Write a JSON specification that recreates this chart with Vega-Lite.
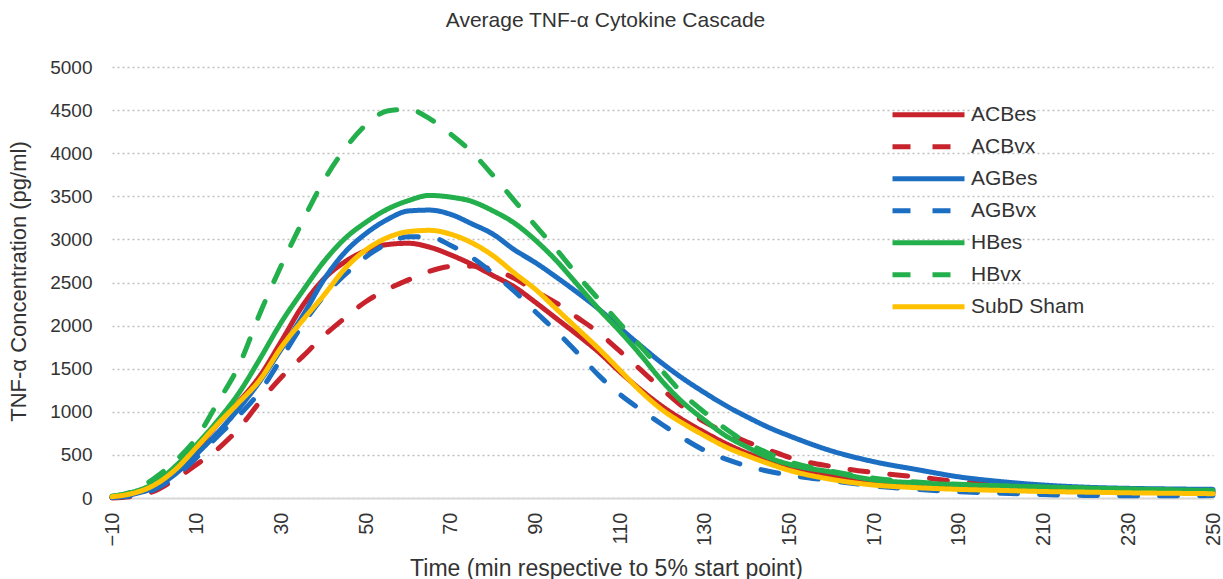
{
 "$schema": "https://vega.github.io/schema/vega-lite/v6.json",
 "width": 1101, "height": 431,
 "autosize": {"type": "none"},
 "padding": {"left": 112, "top": 67, "right": 10, "bottom": 81},
 "background": "white",
 "config": {"view": {"stroke": null}, "font": "Liberation Sans"},
 "title": {"text": "Average TNF-α Cytokine Cascade", "fontSize": 21, "font": "Liberation Sans", "fontWeight": "normal", "color": "#333333", "anchor": "middle", "dx": -57, "offset": 27},
 "datasets": {"d": [
{"series":"ACBes","time":-10,"value":10},{"series":"ACBes","time":-5,"value":50},{"series":"ACBes","time":0,"value":140},{"series":"ACBes","time":5,"value":320},{"series":"ACBes","time":10,"value":570},{"series":"ACBes","time":15,"value":860},{"series":"ACBes","time":20,"value":1120},{"series":"ACBes","time":25,"value":1420},{"series":"ACBes","time":30,"value":1820},{"series":"ACBes","time":35,"value":2230},{"series":"ACBes","time":40,"value":2540},{"series":"ACBes","time":45,"value":2740},{"series":"ACBes","time":50,"value":2870},{"series":"ACBes","time":55,"value":2940},{"series":"ACBes","time":60,"value":2955},{"series":"ACBes","time":65,"value":2910},{"series":"ACBes","time":70,"value":2820},{"series":"ACBes","time":75,"value":2710},{"series":"ACBes","time":80,"value":2580},{"series":"ACBes","time":85,"value":2450},{"series":"ACBes","time":90,"value":2270},{"series":"ACBes","time":95,"value":2080},{"series":"ACBes","time":100,"value":1890},{"series":"ACBes","time":105,"value":1690},{"series":"ACBes","time":110,"value":1460},{"series":"ACBes","time":115,"value":1250},{"series":"ACBes","time":120,"value":1060},{"series":"ACBes","time":125,"value":900},{"series":"ACBes","time":130,"value":760},{"series":"ACBes","time":135,"value":630},{"series":"ACBes","time":140,"value":520},{"series":"ACBes","time":145,"value":430},{"series":"ACBes","time":150,"value":355},{"series":"ACBes","time":160,"value":250},{"series":"ACBes","time":170,"value":185},{"series":"ACBes","time":180,"value":150},{"series":"ACBes","time":190,"value":125},{"series":"ACBes","time":200,"value":110},{"series":"ACBes","time":210,"value":95},{"series":"ACBes","time":220,"value":85},{"series":"ACBes","time":230,"value":75},{"series":"ACBes","time":240,"value":68},{"series":"ACBes","time":250,"value":62},
{"series":"ACBvx","time":-10,"value":0},{"series":"ACBvx","time":-5,"value":20},{"series":"ACBvx","time":0,"value":80},{"series":"ACBvx","time":5,"value":220},{"series":"ACBvx","time":10,"value":390},{"series":"ACBvx","time":15,"value":570},{"series":"ACBvx","time":20,"value":810},{"series":"ACBvx","time":25,"value":1120},{"series":"ACBvx","time":30,"value":1400},{"series":"ACBvx","time":35,"value":1640},{"series":"ACBvx","time":40,"value":1880},{"series":"ACBvx","time":45,"value":2090},{"series":"ACBvx","time":50,"value":2280},{"series":"ACBvx","time":55,"value":2420},{"series":"ACBvx","time":60,"value":2530},{"series":"ACBvx","time":65,"value":2630},{"series":"ACBvx","time":70,"value":2685},{"series":"ACBvx","time":75,"value":2690},{"series":"ACBvx","time":80,"value":2650},{"series":"ACBvx","time":85,"value":2550},{"series":"ACBvx","time":90,"value":2400},{"series":"ACBvx","time":95,"value":2260},{"series":"ACBvx","time":100,"value":2090},{"series":"ACBvx","time":105,"value":1915},{"series":"ACBvx","time":110,"value":1700},{"series":"ACBvx","time":115,"value":1480},{"series":"ACBvx","time":120,"value":1260},{"series":"ACBvx","time":125,"value":1050},{"series":"ACBvx","time":130,"value":880},{"series":"ACBvx","time":135,"value":760},{"series":"ACBvx","time":140,"value":650},{"series":"ACBvx","time":145,"value":560},{"series":"ACBvx","time":150,"value":470},{"series":"ACBvx","time":160,"value":365},{"series":"ACBvx","time":170,"value":295},{"series":"ACBvx","time":180,"value":245},{"series":"ACBvx","time":190,"value":190},{"series":"ACBvx","time":200,"value":150},{"series":"ACBvx","time":210,"value":125},{"series":"ACBvx","time":220,"value":105},{"series":"ACBvx","time":230,"value":90},{"series":"ACBvx","time":240,"value":80},{"series":"ACBvx","time":250,"value":72},
{"series":"AGBes","time":-10,"value":10},{"series":"AGBes","time":-5,"value":45},{"series":"AGBes","time":0,"value":120},{"series":"AGBes","time":5,"value":280},{"series":"AGBes","time":10,"value":510},{"series":"AGBes","time":15,"value":760},{"series":"AGBes","time":20,"value":1040},{"series":"AGBes","time":25,"value":1360},{"series":"AGBes","time":30,"value":1730},{"series":"AGBes","time":35,"value":2110},{"series":"AGBes","time":40,"value":2530},{"series":"AGBes","time":45,"value":2850},{"series":"AGBes","time":50,"value":3070},{"series":"AGBes","time":55,"value":3230},{"series":"AGBes","time":60,"value":3330},{"series":"AGBes","time":65,"value":3340},{"series":"AGBes","time":70,"value":3290},{"series":"AGBes","time":75,"value":3180},{"series":"AGBes","time":80,"value":3060},{"series":"AGBes","time":85,"value":2880},{"series":"AGBes","time":90,"value":2730},{"series":"AGBes","time":95,"value":2560},{"series":"AGBes","time":100,"value":2380},{"series":"AGBes","time":105,"value":2190},{"series":"AGBes","time":110,"value":1970},{"series":"AGBes","time":115,"value":1760},{"series":"AGBes","time":120,"value":1560},{"series":"AGBes","time":125,"value":1380},{"series":"AGBes","time":130,"value":1220},{"series":"AGBes","time":135,"value":1070},{"series":"AGBes","time":140,"value":940},{"series":"AGBes","time":145,"value":820},{"series":"AGBes","time":150,"value":720},{"series":"AGBes","time":160,"value":545},{"series":"AGBes","time":170,"value":420},{"series":"AGBes","time":180,"value":330},{"series":"AGBes","time":190,"value":245},{"series":"AGBes","time":200,"value":190},{"series":"AGBes","time":210,"value":150},{"series":"AGBes","time":220,"value":125},{"series":"AGBes","time":230,"value":112},{"series":"AGBes","time":240,"value":105},{"series":"AGBes","time":250,"value":100},
{"series":"AGBvx","time":-10,"value":5},{"series":"AGBvx","time":-5,"value":30},{"series":"AGBvx","time":0,"value":100},{"series":"AGBvx","time":5,"value":250},{"series":"AGBvx","time":10,"value":470},{"series":"AGBvx","time":15,"value":720},{"series":"AGBvx","time":20,"value":960},{"series":"AGBvx","time":25,"value":1240},{"series":"AGBvx","time":30,"value":1620},{"series":"AGBvx","time":35,"value":2010},{"series":"AGBvx","time":40,"value":2340},{"series":"AGBvx","time":45,"value":2590},{"series":"AGBvx","time":50,"value":2800},{"series":"AGBvx","time":55,"value":2950},{"series":"AGBvx","time":60,"value":3030},{"series":"AGBvx","time":65,"value":3030},{"series":"AGBvx","time":70,"value":2930},{"series":"AGBvx","time":75,"value":2790},{"series":"AGBvx","time":80,"value":2606},{"series":"AGBvx","time":85,"value":2400},{"series":"AGBvx","time":90,"value":2160},{"series":"AGBvx","time":95,"value":1930},{"series":"AGBvx","time":100,"value":1680},{"series":"AGBvx","time":105,"value":1420},{"series":"AGBvx","time":110,"value":1200},{"series":"AGBvx","time":115,"value":1020},{"series":"AGBvx","time":120,"value":850},{"series":"AGBvx","time":125,"value":690},{"series":"AGBvx","time":130,"value":550},{"series":"AGBvx","time":135,"value":450},{"series":"AGBvx","time":140,"value":370},{"series":"AGBvx","time":145,"value":310},{"series":"AGBvx","time":150,"value":265},{"series":"AGBvx","time":160,"value":200},{"series":"AGBvx","time":170,"value":140},{"series":"AGBvx","time":180,"value":100},{"series":"AGBvx","time":190,"value":72},{"series":"AGBvx","time":200,"value":55},{"series":"AGBvx","time":210,"value":40},{"series":"AGBvx","time":220,"value":30},{"series":"AGBvx","time":230,"value":25},{"series":"AGBvx","time":240,"value":25},{"series":"AGBvx","time":250,"value":28},
{"series":"HBes","time":-10,"value":20},{"series":"HBes","time":-5,"value":70},{"series":"HBes","time":0,"value":170},{"series":"HBes","time":5,"value":370},{"series":"HBes","time":10,"value":620},{"series":"HBes","time":15,"value":900},{"series":"HBes","time":20,"value":1220},{"series":"HBes","time":25,"value":1620},{"series":"HBes","time":30,"value":2040},{"series":"HBes","time":35,"value":2400},{"series":"HBes","time":40,"value":2740},{"series":"HBes","time":45,"value":3010},{"series":"HBes","time":50,"value":3200},{"series":"HBes","time":55,"value":3350},{"series":"HBes","time":60,"value":3450},{"series":"HBes","time":65,"value":3510},{"series":"HBes","time":70,"value":3490},{"series":"HBes","time":75,"value":3440},{"series":"HBes","time":80,"value":3330},{"series":"HBes","time":85,"value":3190},{"series":"HBes","time":90,"value":2990},{"series":"HBes","time":95,"value":2750},{"series":"HBes","time":100,"value":2470},{"series":"HBes","time":105,"value":2190},{"series":"HBes","time":110,"value":1930},{"series":"HBes","time":115,"value":1650},{"series":"HBes","time":120,"value":1350},{"series":"HBes","time":125,"value":1100},{"series":"HBes","time":130,"value":900},{"series":"HBes","time":135,"value":720},{"series":"HBes","time":140,"value":590},{"series":"HBes","time":145,"value":470},{"series":"HBes","time":150,"value":390},{"series":"HBes","time":160,"value":300},{"series":"HBes","time":170,"value":210},{"series":"HBes","time":180,"value":175},{"series":"HBes","time":190,"value":155},{"series":"HBes","time":200,"value":140},{"series":"HBes","time":210,"value":128},{"series":"HBes","time":220,"value":115},{"series":"HBes","time":230,"value":105},{"series":"HBes","time":240,"value":95},{"series":"HBes","time":250,"value":88},
{"series":"HBvx","time":-10,"value":20},{"series":"HBvx","time":-5,"value":80},{"series":"HBvx","time":0,"value":230},{"series":"HBvx","time":5,"value":430},{"series":"HBvx","time":10,"value":700},{"series":"HBvx","time":15,"value":1110},{"series":"HBvx","time":20,"value":1540},{"series":"HBvx","time":25,"value":2150},{"series":"HBvx","time":30,"value":2700},{"series":"HBvx","time":35,"value":3210},{"series":"HBvx","time":40,"value":3680},{"series":"HBvx","time":45,"value":4050},{"series":"HBvx","time":50,"value":4330},{"series":"HBvx","time":55,"value":4490},{"series":"HBvx","time":60,"value":4510},{"series":"HBvx","time":65,"value":4400},{"series":"HBvx","time":70,"value":4220},{"series":"HBvx","time":75,"value":4010},{"series":"HBvx","time":80,"value":3740},{"series":"HBvx","time":85,"value":3450},{"series":"HBvx","time":90,"value":3160},{"series":"HBvx","time":95,"value":2880},{"series":"HBvx","time":100,"value":2580},{"series":"HBvx","time":105,"value":2300},{"series":"HBvx","time":110,"value":2020},{"series":"HBvx","time":115,"value":1750},{"series":"HBvx","time":120,"value":1470},{"series":"HBvx","time":125,"value":1200},{"series":"HBvx","time":130,"value":990},{"series":"HBvx","time":135,"value":800},{"series":"HBvx","time":140,"value":640},{"series":"HBvx","time":145,"value":520},{"series":"HBvx","time":150,"value":420},{"series":"HBvx","time":160,"value":310},{"series":"HBvx","time":170,"value":230},{"series":"HBvx","time":180,"value":185},{"series":"HBvx","time":190,"value":160},{"series":"HBvx","time":200,"value":140},{"series":"HBvx","time":210,"value":125},{"series":"HBvx","time":220,"value":112},{"series":"HBvx","time":230,"value":100},{"series":"HBvx","time":240,"value":92},{"series":"HBvx","time":250,"value":85},
{"series":"SubD Sham","time":-10,"value":15},{"series":"SubD Sham","time":-5,"value":55},{"series":"SubD Sham","time":0,"value":150},{"series":"SubD Sham","time":5,"value":330},{"series":"SubD Sham","time":10,"value":590},{"series":"SubD Sham","time":15,"value":860},{"series":"SubD Sham","time":20,"value":1110},{"series":"SubD Sham","time":25,"value":1375},{"series":"SubD Sham","time":30,"value":1750},{"series":"SubD Sham","time":35,"value":2060},{"series":"SubD Sham","time":40,"value":2350},{"series":"SubD Sham","time":45,"value":2660},{"series":"SubD Sham","time":50,"value":2880},{"series":"SubD Sham","time":55,"value":3020},{"series":"SubD Sham","time":60,"value":3090},{"series":"SubD Sham","time":65,"value":3105},{"series":"SubD Sham","time":70,"value":3060},{"series":"SubD Sham","time":75,"value":2960},{"series":"SubD Sham","time":80,"value":2810},{"series":"SubD Sham","time":85,"value":2610},{"series":"SubD Sham","time":90,"value":2420},{"series":"SubD Sham","time":95,"value":2190},{"series":"SubD Sham","time":100,"value":1960},{"series":"SubD Sham","time":105,"value":1730},{"series":"SubD Sham","time":110,"value":1480},{"series":"SubD Sham","time":115,"value":1230},{"series":"SubD Sham","time":120,"value":1020},{"series":"SubD Sham","time":125,"value":860},{"series":"SubD Sham","time":130,"value":720},{"series":"SubD Sham","time":135,"value":590},{"series":"SubD Sham","time":140,"value":490},{"series":"SubD Sham","time":145,"value":400},{"series":"SubD Sham","time":150,"value":320},{"series":"SubD Sham","time":160,"value":215},{"series":"SubD Sham","time":170,"value":150},{"series":"SubD Sham","time":180,"value":120},{"series":"SubD Sham","time":190,"value":100},{"series":"SubD Sham","time":200,"value":88},{"series":"SubD Sham","time":210,"value":75},{"series":"SubD Sham","time":220,"value":68},{"series":"SubD Sham","time":230,"value":60},{"series":"SubD Sham","time":240,"value":55},{"series":"SubD Sham","time":250,"value":50}
 ]},
 "data": {"name": "d"},
 "mark": {"type": "line", "strokeWidth": 5, "strokeCap": "round", "strokeJoin": "round", "interpolate": "monotone"},
 "encoding": {
  "x": {"field": "time", "type": "quantitative",
   "scale": {"domain": [-10, 250], "nice": false, "zero": false},
   "axis": {"values": [-10,10,30,50,70,90,110,130,150,170,190,210,230,250], "format": "d", "labelAngle": -90, "labelFontSize": 20, "labelColor": "#333333", "labelPadding": 14, "ticks": false, "grid": false, "domainColor": "#D9D9D9", "domainWidth": 2,
    "title": "Time  (min respective to 5% start point)", "titleFontSize": 23, "titleFontWeight": "normal", "titleColor": "#333333", "titleX": 494, "titleY": 70, "titleAlign": "center", "titleBaseline": "middle"}},
  "y": {"field": "value", "type": "quantitative",
   "scale": {"domain": [0, 5000], "nice": false},
   "axis": {"values": [0,500,1000,1500,2000,2500,3000,3500,4000,4500,5000], "format": "d", "labelFontSize": 19, "labelColor": "#333333", "labelPadding": 20, "ticks": false, "domain": false, "grid": true, "gridColor": "#BFBFBF", "gridDash": [2,3], "gridWidth": 1.5,
    "title": "TNF-α Concentration (pg/ml)", "titleFontSize": 22, "titleFontWeight": "normal", "titleColor": "#333333", "titleX": -94, "titleY": 214, "titleAlign": "center", "titleBaseline": "middle", "titleAngle": 270}},
  "color": {"field": "series", "type": "nominal",
   "scale": {"domain": ["ACBes","ACBvx","AGBes","AGBvx","HBes","HBvx","SubD Sham"], "range": ["#C8232C","#C8232C","#1B6EC2","#1B6EC2","#23AF4B","#23AF4B","#FFC000"]},
   "legend": {"title": null, "orient": "none", "legendX": 778, "legendY": 32, "symbolType": "stroke", "symbolSize": 5184, "symbolStrokeWidth": 5, "labelFontSize": 21, "labelColor": "#333333", "labelOffset": 4, "rowPadding": 0, "clipHeight": 31.6}},
  "strokeDash": {"field": "series", "type": "nominal",
   "scale": {"domain": ["ACBes","ACBvx","AGBes","AGBvx","HBes","HBvx","SubD Sham"], "range": [[1,0],[18,22],[1,0],[18,22],[1,0],[18,22],[1,0]]},
   "legend": {"title": null, "orient": "none", "legendX": 778, "legendY": 32, "symbolType": "stroke", "symbolSize": 5184, "symbolStrokeWidth": 5, "labelFontSize": 21, "labelColor": "#333333", "labelOffset": 4, "rowPadding": 0, "clipHeight": 31.6}}
 }
}
